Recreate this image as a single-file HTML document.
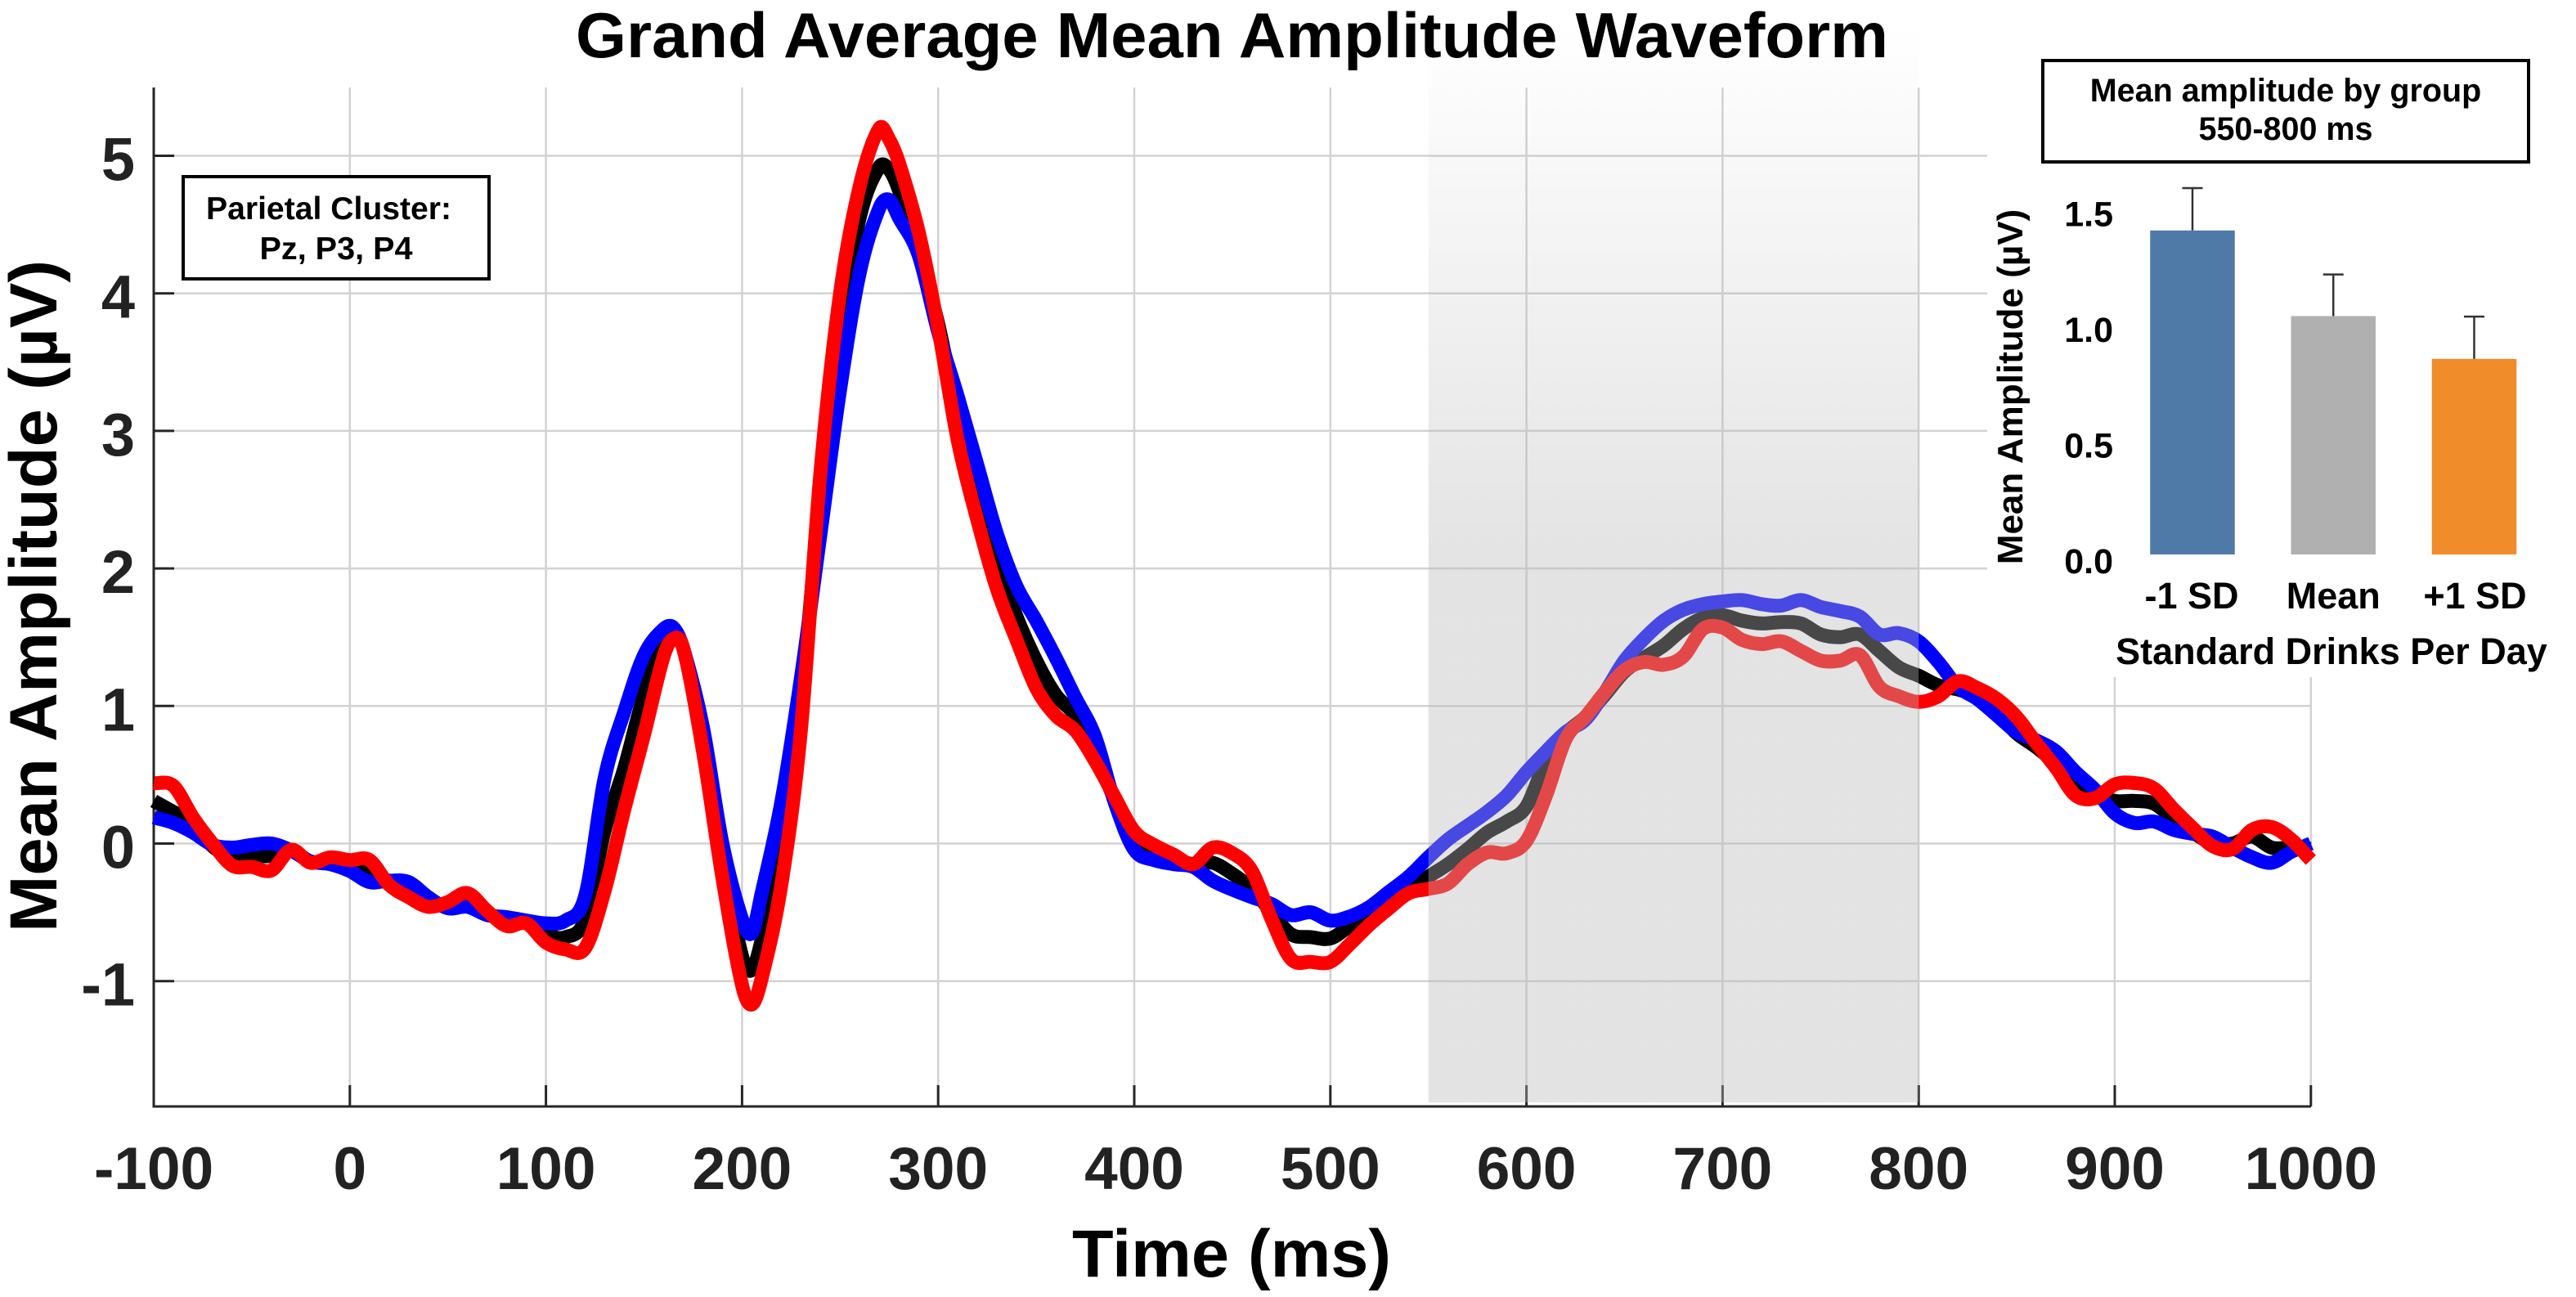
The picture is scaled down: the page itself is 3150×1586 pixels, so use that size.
<!DOCTYPE html>
<html>
<head>
<meta charset="utf-8">
<title>Grand Average Mean Amplitude Waveform</title>
<style>
html,body{margin:0;padding:0;background:#fff;width:3150px;height:1586px;overflow:hidden}
svg{display:block}
text{font-family:"Liberation Sans",Arial,sans-serif;font-weight:700}
</style>
</head>
<body>
<svg id="chart" xmlns="http://www.w3.org/2000/svg" width="3150" height="1586" viewBox="0 0 3150 1586">
  <defs>
    <linearGradient id="windowFill" gradientUnits="userSpaceOnUse" x1="0" y1="30" x2="0" y2="1348">
      <stop offset="0" stop-color="#b8b8b8" stop-opacity="0"/>
      <stop offset="0.5" stop-color="#b8b8b8" stop-opacity="0.39"/>
      <stop offset="1" stop-color="#b8b8b8" stop-opacity="0.39"/>
    </linearGradient>
  </defs>
  <rect x="0" y="0" width="3150" height="1586" fill="#fff"/>
  <g id="gridLayer"></g>
  <rect x="2430" y="0" width="720" height="828" fill="#fff"/>
  <g id="axisLayer"></g>
  <g id="seriesLayer"></g>
  <g id="windowLayer"></g>

  <text x="1506.5" y="70" font-size="78" text-anchor="middle" textLength="1605" lengthAdjust="spacingAndGlyphs" fill="#000">Grand Average Mean Amplitude Waveform</text>
  <text transform="translate(69,729) rotate(-90)" font-size="82" text-anchor="middle" textLength="822" lengthAdjust="spacingAndGlyphs" fill="#000">Mean Amplitude (µV)</text>
  <text x="1506" y="1561" font-size="82" text-anchor="middle" textLength="390" lengthAdjust="spacingAndGlyphs" fill="#000">Time (ms)</text>

  <g>
    <rect x="224" y="216" width="374" height="125" fill="#fff" stroke="#000" stroke-width="4"/>
    <text x="402" y="268" font-size="39" text-anchor="middle" textLength="300" lengthAdjust="spacingAndGlyphs" fill="#000">Parietal Cluster:</text>
    <text x="411" y="317" font-size="39" text-anchor="middle" textLength="187" lengthAdjust="spacingAndGlyphs" fill="#000">Pz, P3, P4</text>
  </g>

  <g>
    <rect x="2498" y="74" width="594" height="124" fill="#fff" stroke="#000" stroke-width="4"/>
    <text x="2795" y="124" font-size="39.5" text-anchor="middle" fill="#000">Mean amplitude by group</text>
    <text x="2795" y="171" font-size="39.5" text-anchor="middle" fill="#000">550-800 ms</text>
    <text transform="translate(2473,473) rotate(-90)" font-size="44" text-anchor="middle" fill="#000">Mean Amplitude (µV)</text>
    <text x="2851" y="812" font-size="45" text-anchor="middle" fill="#000">Standard Drinks Per Day</text>
    <g id="insetLayer"></g>
  </g>
</svg>

<script>
// ---- Waveform data (µV) ----
const times = [-100,-90,-80,-70,-60,-50,-40,-30,-20,-10,0,10,20,30,40,50,60,70,80,90,100,110,120,130,140,150,160,165,170,180,190,200,205,210,220,230,240,250,260,270,275,280,290,300,310,320,330,340,350,360,370,380,390,400,410,420,430,440,450,460,470,480,490,500,510,520,530,540,550,560,570,580,590,600,610,620,630,640,650,660,670,680,690,700,710,720,730,740,750,760,770,780,790,800,810,820,830,840,850,860,870,880,890,900,910,920,930,940,950,960,970,980,990,1000];
const meanDrinks = [0.31,0.23,0.16,-0.02,-0.1,-0.09,-0.09,-0.05,-0.13,-0.13,-0.15,-0.19,-0.28,-0.33,-0.43,-0.44,-0.4,-0.5,-0.57,-0.57,-0.66,-0.68,-0.55,0.1,0.55,1.08,1.45,1.52,1.42,0.76,-0.1,-0.82,-0.92,-0.7,-0.05,1.0,2.55,3.7,4.55,4.92,4.9,4.75,4.3,3.78,3.1,2.55,2.05,1.65,1.33,1.08,0.93,0.66,0.32,0.03,-0.06,-0.11,-0.15,-0.14,-0.22,-0.33,-0.5,-0.66,-0.68,-0.69,-0.6,-0.52,-0.42,-0.33,-0.24,-0.15,-0.04,0.08,0.16,0.27,0.6,0.8,0.92,1.08,1.25,1.35,1.44,1.56,1.64,1.66,1.62,1.6,1.61,1.6,1.52,1.5,1.52,1.4,1.28,1.22,1.15,1.12,1.07,0.95,0.8,0.7,0.58,0.44,0.36,0.31,0.31,0.29,0.18,0.08,0.0,0.0,0.05,-0.03,-0.03,-0.04];
const minusOneSd = [0.19,0.15,0.08,-0.01,-0.03,-0.01,0.0,-0.05,-0.13,-0.15,-0.2,-0.28,-0.27,-0.28,-0.39,-0.47,-0.46,-0.52,-0.535,-0.56,-0.58,-0.56,-0.38,0.48,0.96,1.37,1.56,1.57,1.42,0.85,0.0,-0.55,-0.65,-0.36,0.3,1.2,2.25,3.3,4.15,4.62,4.68,4.55,4.28,3.72,3.25,2.75,2.25,1.87,1.62,1.35,1.06,0.78,0.3,-0.045,-0.12,-0.15,-0.17,-0.27,-0.335,-0.39,-0.44,-0.52,-0.5,-0.56,-0.53,-0.46,-0.35,-0.24,-0.1,0.03,0.13,0.23,0.35,0.52,0.67,0.81,0.9,1.1,1.33,1.49,1.62,1.7,1.74,1.76,1.77,1.74,1.73,1.77,1.72,1.69,1.65,1.52,1.53,1.47,1.32,1.14,1.05,0.93,0.81,0.75,0.67,0.52,0.39,0.22,0.15,0.16,0.1,0.07,0.05,-0.03,-0.1,-0.14,-0.06,0.0];
const plusOneSd = [0.44,0.42,0.19,0.0,-0.16,-0.17,-0.195,-0.045,-0.14,-0.1,-0.12,-0.12,-0.3,-0.39,-0.46,-0.425,-0.36,-0.49,-0.6,-0.58,-0.72,-0.77,-0.76,-0.34,0.25,0.79,1.36,1.49,1.42,0.68,-0.25,-1.03,-1.17,-0.98,-0.3,0.82,2.7,4.0,4.78,5.2,5.12,4.95,4.45,3.75,2.93,2.35,1.85,1.48,1.13,0.93,0.82,0.6,0.34,0.09,-0.01,-0.08,-0.15,-0.03,-0.07,-0.2,-0.55,-0.84,-0.86,-0.86,-0.73,-0.59,-0.47,-0.36,-0.33,-0.29,-0.15,-0.065,-0.07,0.02,0.35,0.76,0.92,1.1,1.26,1.32,1.3,1.36,1.56,1.57,1.48,1.45,1.47,1.4,1.33,1.33,1.37,1.14,1.07,1.03,1.07,1.18,1.13,1.05,0.92,0.73,0.55,0.35,0.33,0.43,0.44,0.4,0.25,0.11,-0.02,-0.04,0.1,0.12,0.03,-0.12];
const xTicks = [-100,0,100,200,300,400,500,600,700,800,900,1000];
const yTicks = [-1,0,1,2,3,4,5];
const windowRange = [550,800];

// ---- Inset bar data ----
const groups = ['-1 SD','Mean','+1 SD'];
const groupMeans = [1.40,1.03,0.845];
const groupErrorTops = [1.583,1.21,1.028];
const insetTicks = ['0.0','0.5','1.0','1.5'];

// ---- Axis functions ----
function xScale(t){ return 427.8 + 2.398*t; }
function yScale(v){ return 1031.5 - 168.2*v; }
function insetY(v){ return 678 - 283*v; }
function insetX(i){ return 2681 + 172.25*i; }

const NS = 'http://www.w3.org/2000/svg';
function make(tag, attrs, parent, content){
  const el = document.createElementNS(NS, tag);
  for (const k in attrs) el.setAttribute(k, attrs[k]);
  if (content !== undefined) el.textContent = content;
  parent.appendChild(el);
  return el;
}
const gridLayer = document.getElementById('gridLayer');
const axisLayer = document.getElementById('axisLayer');
const seriesLayer = document.getElementById('seriesLayer');
const windowLayer = document.getElementById('windowLayer');
const insetLayer = document.getElementById('insetLayer');

// Grid + ticks
xTicks.forEach(function(t){
  const gx = make('line',{x1:xScale(t),x2:xScale(t),y1:107,y2:1353,stroke:'#d2d2d2','stroke-width':2.5},gridLayer);
  
  
  const tk = make('line',{x1:xScale(t),x2:xScale(t),y1:1327,y2:1353,stroke:'#262626','stroke-width':3},axisLayer);
  
  
  const lb = make('text',{x:xScale(t),y:1454,'font-size':73,'text-anchor':'middle',fill:'#222'},axisLayer,String(t));
  
  
});
yTicks.forEach(function(v){
  const gy = make('line',{x1:188,x2:2826,y1:yScale(v),y2:yScale(v),stroke:'#d2d2d2','stroke-width':2.5},gridLayer);
  
  
  const tk = make('line',{x1:188,x2:213,y1:yScale(v),y2:yScale(v),stroke:'#262626','stroke-width':3},axisLayer);
  
  
  const lb = make('text',{x:165,y:yScale(v)+30,'font-size':74,'text-anchor':'end',fill:'#222'},axisLayer,String(v));
  
  
});
const spineY = make('line',{x1:188,x2:188,y1:107,y2:1354.5,stroke:'#262626','stroke-width':3},axisLayer);


const spineX = make('line',{x1:188,x2:2826,y1:1353,y2:1353,stroke:'#262626','stroke-width':3},axisLayer);



// Waveforms: smooth path through the data points
function wavePath(values){
  const px = times.map(xScale), py = values.map(yScale);
  let d = 'M' + px[0].toFixed(1) + ' ' + py[0].toFixed(1);
  for (let i = 0; i < px.length - 1; i++){
    const a = Math.max(i-1,0), b = Math.min(i+2,px.length-1);
    const seg = px[i+1]-px[i];
    const k1 = seg/(px[i+1]-px[a])/3, k2 = seg/(px[b]-px[i])/3;
    const c1x = px[i]+(px[i+1]-px[a])*k1, c1y = py[i]+(py[i+1]-py[a])*k1;
    const c2x = px[i+1]-(px[b]-px[i])*k2, c2y = py[i+1]-(py[b]-py[i])*k2;
    d += 'C' + c1x.toFixed(1) + ' ' + c1y.toFixed(1) + ' ' + c2x.toFixed(1) + ' ' + c2y.toFixed(1) + ' ' + px[i+1].toFixed(1) + ' ' + py[i+1].toFixed(1);
  }
  return d;
}
const lineMean = make('path',{d:wavePath(meanDrinks),fill:'none',stroke:'#000','stroke-width':17,'stroke-linejoin':'round'},seriesLayer);


const lineMinus = make('path',{d:wavePath(minusOneSd),fill:'none',stroke:'#0000ff','stroke-width':17,'stroke-linejoin':'round'},seriesLayer);


const linePlus = make('path',{d:wavePath(plusOneSd),fill:'none',stroke:'#ff0000','stroke-width':17,'stroke-linejoin':'round'},seriesLayer);



// Shaded analysis window
const shade = make('rect',{x:xScale(windowRange[0]),y:30,width:xScale(windowRange[1])-xScale(windowRange[0]),height:1318,fill:'url(#windowFill)'},windowLayer);



// Inset bars
groups.forEach(function(g,i){
  const fills = ['#4f7aa8','#b0b0b0','#f18c2a'];
  const cx = insetX(i);
  const stem = make('line',{x1:cx,x2:cx,y1:insetY(groupErrorTops[i]),y2:insetY(groupMeans[i]),stroke:'#333','stroke-width':2.5},insetLayer);
  
  
  const cap = make('line',{x1:cx-12.5,x2:cx+12.5,y1:insetY(groupErrorTops[i]),y2:insetY(groupErrorTops[i]),stroke:'#333','stroke-width':2.5},insetLayer);
  
  
  const bar = make('rect',{x:cx-51.75,y:insetY(groupMeans[i]),width:103.5,height:insetY(0)-insetY(groupMeans[i]),fill:fills[i]},insetLayer);
  
  
  const lb = make('text',{x:cx-1+i*1,y:744,'font-size':45,'text-anchor':'middle',fill:'#000'},insetLayer,g);
  
  
});
insetTicks.forEach(function(t){
  const lb = make('text',{x:2584,y:insetY(parseFloat(t))+23,'font-size':43,'text-anchor':'end',fill:'#000'},insetLayer,t);
  
  
});
</script>
</body>
</html>
